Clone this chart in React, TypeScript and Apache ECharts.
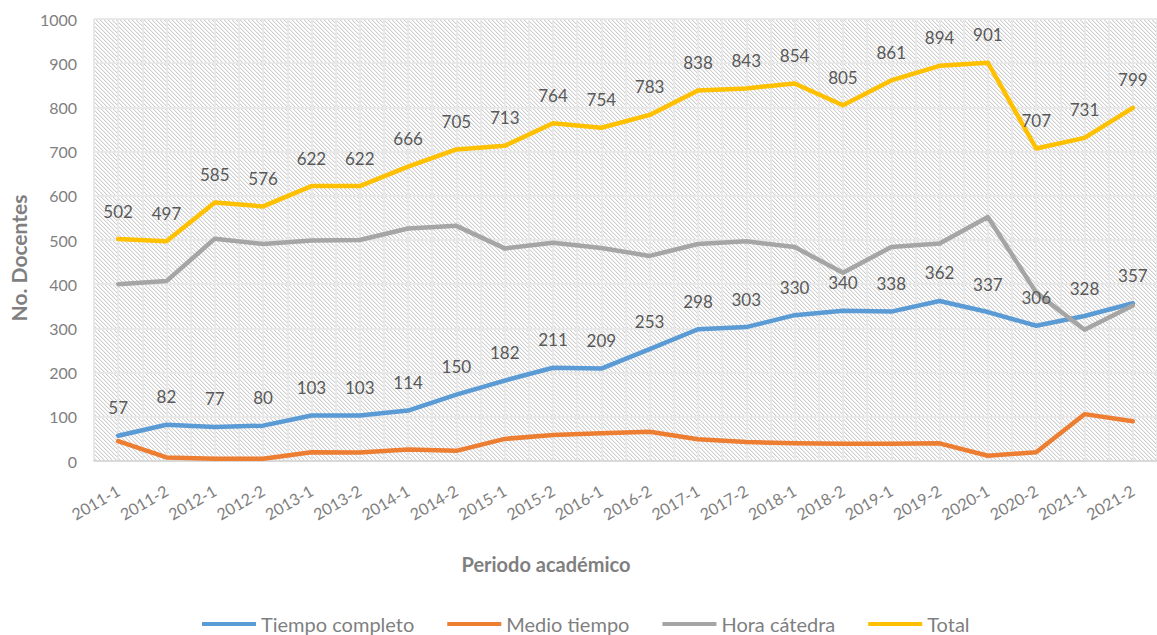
import React, { useEffect, useRef } from "react";
import * as echarts from "echarts";

const categories = [
  "2011-1", "2011-2", "2012-1", "2012-2", "2013-1", "2013-2", "2014-1", "2014-2",
  "2015-1", "2015-2", "2016-1", "2016-2", "2017-1", "2017-2", "2018-1", "2018-2",
  "2019-1", "2019-2", "2020-1", "2020-2", "2021-1", "2021-2",
];
const tiempoCompleto = [57, 82, 77, 80, 103, 103, 114, 150, 182, 211, 209, 253, 298, 303, 330, 340, 338, 362, 337, 306, 328, 357];
const medioTiempo = [45, 8, 5, 5, 20, 19, 26, 23, 50, 59, 63, 66, 49, 43, 40, 39, 39, 40, 12, 20, 106, 90];
const horaCatedra = [400, 407, 503, 491, 499, 500, 526, 532, 481, 494, 482, 464, 491, 497, 484, 426, 484, 492, 552, 381, 297, 352];
const total = [502, 497, 585, 576, 622, 622, 666, 705, 713, 764, 754, 783, 838, 843, 854, 805, 861, 894, 901, 707, 731, 799];

const seriesNames = ["Tiempo completo", "Medio tiempo", "Hora cátedra", "Total"];
const seriesColors = ["#5B9BD5", "#ED7D31", "#A5A5A5", "#FFC000"];
const yMin = 0;
const yMax = 1000;
const yInterval = 100;

const FONT = "Lato, 'Open Sans', sans-serif";

function makePattern(): HTMLCanvasElement {
  const c = document.createElement("canvas");
  c.width = 4;
  c.height = 4;
  const ctx = c.getContext("2d")!;
  ctx.fillStyle = "#ffffff";
  ctx.fillRect(0, 0, 4, 4);
  for (let i = 0; i < 4; i++) {
    ctx.fillStyle = "#cfcfcf";
    ctx.fillRect(i, i, 1, 1);
    ctx.fillStyle = "#ededed";
    ctx.fillRect((i + 1) % 4, i, 1, 1);
  }
  return c;
}

export default function App() {
  const ref = useRef<HTMLDivElement>(null);

  useEffect(() => {
    if (!ref.current) return;
    const chart = echarts.init(ref.current, undefined, { renderer: "svg" });
    const pattern = makePattern();

    const label = {
      show: true,
      position: "top",
      distance: 19,
      color: "#595959",
      fontFamily: FONT,
      fontSize: 17,
    };

    const mk = (name: string, data: number[], color: string, withLabel: boolean) => ({
      name,
      type: "line",
      data,
      xAxisIndex: 0,
      yAxisIndex: 0,
      symbol: "circle",
      symbolSize: 1,
      itemStyle: { color },
      lineStyle: { color, width: 4.5, cap: "round", join: "round" },
      label: withLabel ? label : { show: false },
      emphasis: { disabled: true },
    });

    chart.setOption({
      animation: false,
      backgroundColor: "#ffffff",
      grid: {
        left: 94,
        right: -13,
        top: 19,
        bottom: 174,
        show: true,
        borderWidth: 0,
        backgroundColor: { image: pattern, repeat: "repeat" },
      },
      legend: {
        left: 197,
        top: 609,
        icon: "rect",
        itemWidth: 54,
        itemHeight: 4,
        itemGap: 33,
        data: seriesNames,
        textStyle: { color: "#7f7f7f", fontFamily: FONT, fontSize: 20, lineHeight: 20 },
      },
      xAxis: [
        {
          type: "category",
          data: categories,
          boundaryGap: true,
          axisLine: { show: true, lineStyle: { color: "#d9d9d9", width: 2 } },
          axisTick: { show: false },
          splitLine: { show: false },
          axisLabel: {
            interval: 0,
            rotate: 30,
            margin: 28,
            color: "#7f7f7f",
            fontFamily: FONT,
            fontSize: 16,
          },
          z: 3,
        },
        {
          type: "value",
          min: -0.5,
          max: 21.5,
          interval: 0.5,
          show: true,
          position: "bottom",
          axisLine: { show: false },
          axisTick: { show: false },
          axisLabel: { show: false },
          splitLine: { show: true, lineStyle: { color: "#e8e8e8", width: 2 } },
        },
      ],
      yAxis: {
        type: "value",
        min: yMin,
        max: yMax,
        interval: yInterval,
        axisLine: { show: false },
        axisTick: { show: false },
        axisLabel: {
          color: "#7f7f7f",
          fontFamily: FONT,
          fontSize: 16,
          margin: 17,
          formatter: (v: number) => String(v),
        },
        splitLine: { show: true, lineStyle: { color: "#e8e8e8", width: 2 } },
      },
      graphic: [
        {
          type: "text",
          x: 546,
          y: 564,
          style: {
            text: "Periodo académico",
            fill: "#7f7f7f",
            font: `bold 20px ${FONT}`,
            align: "center",
            verticalAlign: "middle",
            textAlign: "center",
            textVerticalAlign: "middle",
          },
        },
        {
          type: "text",
          x: 18,
          y: 258,
          rotation: Math.PI / 2,
          style: {
            text: "No. Docentes",
            fill: "#7f7f7f",
            font: `bold 21px ${FONT}`,
            align: "center",
            verticalAlign: "middle",
            textAlign: "center",
            textVerticalAlign: "middle",
          },
        },
      ],
      series: [
        mk(seriesNames[0], tiempoCompleto, seriesColors[0], true),
        mk(seriesNames[1], medioTiempo, seriesColors[1], false),
        mk(seriesNames[2], horaCatedra, seriesColors[2], false),
        mk(seriesNames[3], total, seriesColors[3], true),
      ],
    });

    return () => chart.dispose();
  }, []);

  return (
    <div
      ref={ref}
      style={{ position: "absolute", left: 0, top: 0, width: 1157, height: 635 }}
    />
  );
}
